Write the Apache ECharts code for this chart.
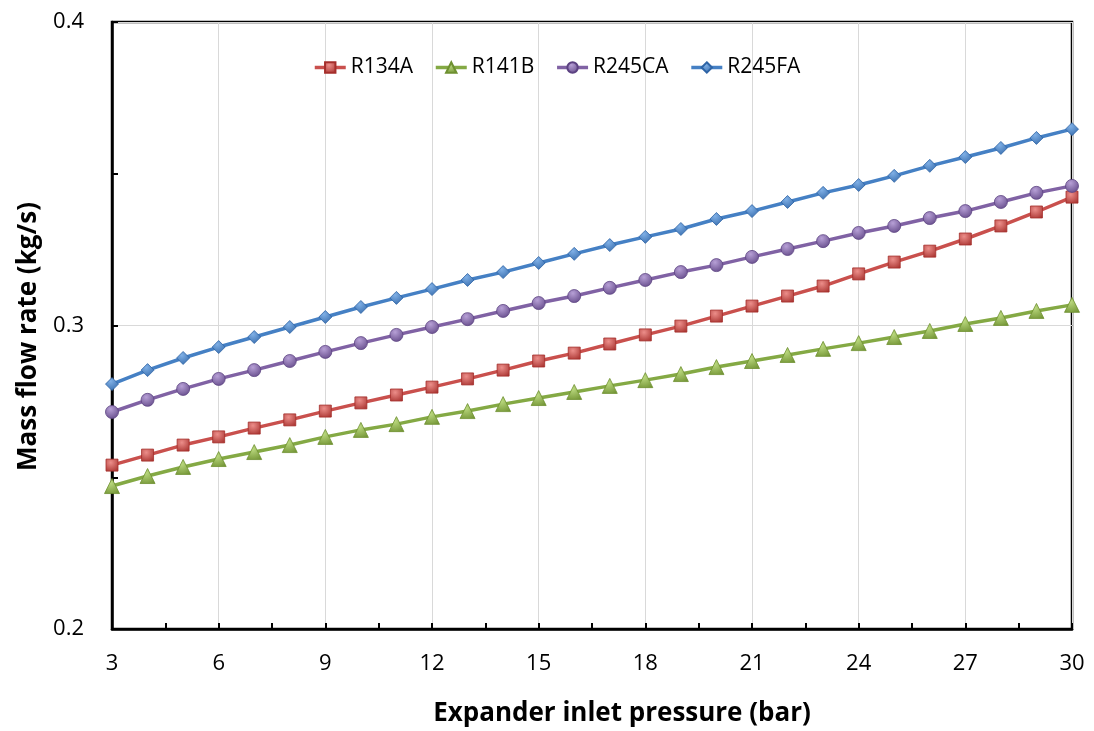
<!DOCTYPE html>
<html><head><meta charset="utf-8">
<script src="https://cdn.jsdelivr.net/npm/echarts@6/dist/echarts.min.js"></script>
<style>html,body{margin:0;padding:0;background:#fff}#c{width:1094px;height:731px}</style>
</head><body><div id="c"></div>
<script>
const pressures = [3,4,5,6,7,8,9,10,11,12,13,14,15,16,17,18,19,20,21,22,23,24,25,26,27,28,29,30];
const r134a = [0.2540,0.2573,0.2606,0.2633,0.2662,0.2689,0.2718,0.2745,0.2771,0.2797,0.2824,0.2853,0.2883,0.2909,0.2939,0.2969,0.2998,0.3031,0.3064,0.3097,0.3130,0.3170,0.3209,0.3245,0.3285,0.3328,0.3374,0.3423];
const r141b = [0.2471,0.2504,0.2534,0.2560,0.2583,0.2606,0.2633,0.2656,0.2675,0.2699,0.2718,0.2741,0.2761,0.2781,0.2801,0.2820,0.2840,0.2863,0.2883,0.2903,0.2923,0.2942,0.2962,0.2982,0.3005,0.3025,0.3048,0.3068];
const r245ca = [0.2715,0.2755,0.2791,0.2824,0.2853,0.2883,0.2913,0.2942,0.2969,0.2995,0.3021,0.3048,0.3074,0.3097,0.3124,0.3150,0.3176,0.3199,0.3226,0.3252,0.3278,0.3305,0.3328,0.3354,0.3377,0.3407,0.3437,0.3460];
const r245fa = [0.2807,0.2853,0.2893,0.2929,0.2962,0.2995,0.3028,0.3061,0.3091,0.3120,0.3150,0.3176,0.3206,0.3236,0.3265,0.3292,0.3318,0.3351,0.3377,0.3407,0.3437,0.3463,0.3493,0.3526,0.3555,0.3585,0.3618,0.3647];
const xTicks = [3,6,9,12,15,18,21,24,27,30];
const yTicks = [0.2,0.3,0.4];

const FONT = '"Open Sans", "Noto Sans", sans-serif';
function grad(light, dark){
  return new echarts.graphic.RadialGradient(0.4,0.3,0.85,[{offset:0,color:light},{offset:1,color:dark}]);
}
function mk(name, data, line, light, dark, symbol, size){
  return {
    name, type:'line', data: pressures.map((p,i)=>[p,data[i]]),
    symbol, symbolSize:size, showSymbol:true,
    lineStyle:{color:line,width:3.5},
    itemStyle:{color:grad(light,dark), borderColor:dark, borderWidth:0.8},
    emphasis:{disabled:true}, animation:false, z:3
  };
}
const chart = echarts.init(document.getElementById('c'));
chart.setOption({
  animation:false,
  grid:{left:112,right:22,top:22,bottom:102,show:true,borderColor:'#000',borderWidth:2.5,
        containLabel:false,outerBoundsMode:'none'},
  legend:{
    top:52,left:308,itemWidth:31,itemHeight:13,itemGap:21,
    lineStyle:{width:3.5},
    textStyle:{fontFamily:FONT,fontSize:21,color:'#000'},
    data:['R134A','R141B','R245CA','R245FA']
  },
  xAxis:{
    type:'value',min:3,max:30,interval:3,
    name:'Expander inlet pressure (bar)',nameLocation:'middle',nameGap:72,
    nameTextStyle:{fontFamily:FONT,fontSize:26,fontWeight:'bold',color:'#000',padding:[0,0,0,60]},
    axisLine:{lineStyle:{color:'#000',width:2.5}},
    axisTick:{show:true,inside:true,length:6,lineStyle:{color:'#000',width:2}},
    minorTick:{show:true,splitNumber:2,length:6,lineStyle:{color:'#000',width:2}},
    axisLabel:{fontFamily:FONT,fontSize:22,color:'#000',margin:24,
      formatter:v=>xTicks.includes(v)?String(v):''},
    splitLine:{show:true,lineStyle:{color:'#d9d9d9',width:1}}
  },
  yAxis:{
    type:'value',min:0.2,max:0.4,interval:0.1,
    name:'Mass flow rate (kg/s)',nameLocation:'middle',nameGap:70,
    nameTextStyle:{fontFamily:FONT,fontSize:26,fontWeight:'bold',color:'#000',padding:[0,22,0,0]},
    axisLine:{show:true,lineStyle:{color:'#000',width:2.5}},
    axisTick:{show:true,inside:true,length:6,lineStyle:{color:'#000',width:2}},
    minorTick:{show:true,splitNumber:2,length:6,lineStyle:{color:'#000',width:2}},
    axisLabel:{fontFamily:FONT,fontSize:22,color:'#000',margin:28,
      formatter:v=>{const t=yTicks.find(y=>Math.abs(y-v)<1e-9);return t!==undefined?t.toFixed(1):'';}},
    splitLine:{show:true,lineStyle:{color:'#d9d9d9',width:1}}
  },
  series:[
    mk('R134A',r134a,'#C9504D','#EC8E8A','#A52E2B','rect',12),
    mk('R141B',r141b,'#84A944','#BCDA80','#6E9030','triangle',15),
    mk('R245CA',r245ca,'#8062A4','#B7A0D6','#5C4282','circle',13),
    mk('R245FA',r245fa,'#4580C4','#80B0E6','#2E64A6','diamond',13)
  ]
});
</script></body></html>
